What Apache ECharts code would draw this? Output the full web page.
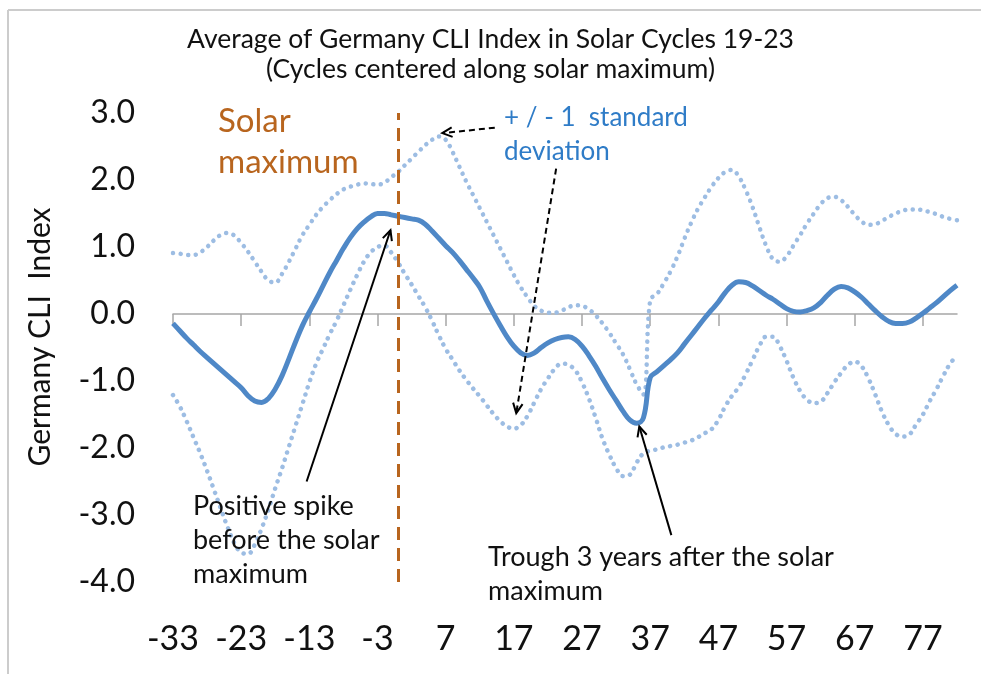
<!DOCTYPE html>
<html>
<head>
<meta charset="utf-8">
<script src="https://cdn.jsdelivr.net/npm/echarts@6/dist/echarts.min.js"></script>
<style>
  html, body { margin: 0; padding: 0; background: #fff; }
  #main { width: 981px; height: 674px; }
</style>
</head>
<body>
<div id="main"></div>
<script>
// months relative to the solar maximum, -33 .. 82
var months = [];
for (var m = -33; m <= 82; m++) months.push(String(m));

// average CLI index across cycles 19-23
var cliMean = [
  -0.14, -0.25, -0.36, -0.46, -0.56, -0.65, -0.74, -0.83, -0.92, -1.01,
  -1.10, -1.22, -1.30, -1.32, -1.26, -1.12, -0.92, -0.67, -0.41, -0.17,
   0.03,  0.22,  0.42,  0.62,  0.80,  0.98,  1.14,  1.27,  1.37,  1.45,
   1.50,  1.50,  1.48,  1.46,  1.44,  1.42,  1.40,  1.34,  1.24,  1.13,
   1.02,  0.92,  0.80,  0.67,  0.54,  0.40,  0.20,  0.01, -0.17, -0.34,
  -0.48, -0.58, -0.62, -0.58, -0.50, -0.43, -0.38, -0.35, -0.34, -0.38,
  -0.48, -0.62, -0.78, -0.96, -1.13, -1.29, -1.45, -1.58, -1.63, -1.55,
  -0.95, -0.86, -0.77, -0.68, -0.58, -0.45, -0.32, -0.19, -0.06,  0.06,
   0.18,  0.32,  0.43,  0.48,  0.47,  0.42,  0.35,  0.28,  0.22,  0.15,
   0.08,  0.04,  0.03,  0.05,  0.09,  0.17,  0.28,  0.37,  0.41,  0.39,
   0.33,  0.25,  0.15,  0.05, -0.04, -0.11, -0.14, -0.14, -0.12, -0.06,
   0.01,  0.09,  0.17,  0.26,  0.35,  0.43
];

// mean + 1 standard deviation
var cliUpper = [
   0.91,  0.90,  0.88,  0.88,  0.92,  1.00,  1.10,  1.18,  1.21,  1.17,
   1.06,  0.93,  0.78,  0.63,  0.50,  0.47,  0.60,  0.78,  0.98,  1.18,
   1.33,  1.48,  1.60,  1.70,  1.79,  1.86,  1.90,  1.93,  1.95,  1.94,
   1.93,  1.96,  2.04,  2.12,  2.22,  2.32,  2.42,  2.52,  2.60,  2.65,
   2.60,  2.42,  2.20,  1.98,  1.78,  1.58,  1.38,  1.18,  0.98,  0.78,
   0.58,  0.40,  0.25,  0.12,  0.05,  0.02,  0.02,  0.05,  0.10,  0.13,
   0.12,  0.07, -0.02, -0.14, -0.28, -0.44, -0.60, -0.82, -1.05, -1.20,
   0.21,  0.30,  0.46,  0.64,  0.86,  1.12,  1.36,  1.57,  1.74,  1.90,
   2.03,  2.12,  2.15,  2.05,  1.85,  1.60,  1.30,  1.02,  0.82,  0.78,
   0.86,  1.02,  1.18,  1.35,  1.50,  1.64,  1.73,  1.75,  1.70,  1.60,
   1.48,  1.38,  1.33,  1.34,  1.39,  1.45,  1.50,  1.54,  1.56,  1.56,
   1.55,  1.52,  1.49,  1.45,  1.42,  1.40
];

// mean - 1 standard deviation
var cliLower = [
  -1.21, -1.38, -1.60, -1.84, -2.08, -2.34, -2.62, -2.90, -3.18, -3.42,
  -3.56, -3.58, -3.44, -3.20, -2.92, -2.60, -2.30, -1.98, -1.66, -1.34,
  -1.02, -0.74, -0.52, -0.30, -0.10,  0.13,  0.36,  0.58,  0.78,  0.92,
   1.00,  1.02,  0.92,  0.77,  0.60,  0.44,  0.27,  0.10, -0.10, -0.32,
  -0.52, -0.68, -0.84, -0.98, -1.11, -1.23, -1.36, -1.49, -1.60, -1.68,
  -1.71, -1.66, -1.52, -1.32, -1.12, -0.96, -0.82, -0.74, -0.76, -0.84,
  -1.02, -1.26, -1.55, -1.86, -2.10, -2.30, -2.42, -2.40, -2.22, -2.08,
  -2.04, -2.02, -1.99, -1.97, -1.95, -1.92, -1.89, -1.84, -1.78, -1.72,
  -1.58, -1.38, -1.22, -1.09, -0.90, -0.69, -0.48, -0.34, -0.34, -0.48,
  -0.70, -0.95, -1.15, -1.28, -1.33, -1.31, -1.18, -1.02, -0.88, -0.76,
  -0.71, -0.78, -0.96, -1.20, -1.46, -1.66, -1.79, -1.83, -1.80, -1.65,
  -1.50, -1.30, -1.12, -0.92, -0.74, -0.62
];

var FONT = 'Lato, "Open Sans", sans-serif';
var TXT = '#111111';

var chart = echarts.init(document.getElementById('main'));

var dotted = { color: '#9dbde3', width: 4.5, type: [0.1, 7.5], cap: 'round' };

chart.setOption({
  animation: false,
  title: {
    text: 'Average of Germany CLI Index in Solar Cycles 19-23\n(Cycles centered along solar maximum)',
    left: 'center',
    top: 24,
    padding: 0,
    textStyle: { fontFamily: FONT, fontSize: 26.5, fontWeight: 'normal', color: TXT, lineHeight: 30 }
  },
  grid: { left: 173, right: 24, top: 113, bottom: 92 },
  xAxis: [
    {
      type: 'category', data: months, boundaryGap: false,
      axisLine: { onZero: true, lineStyle: { color: '#a6a6a6', width: 1.5 } },
      axisTick: { interval: 9, length: 12, lineStyle: { color: '#a6a6a6', width: 1.5 } },
      axisLabel: { show: false },
      splitLine: { show: false }
    },
    {
      type: 'category', data: months, boundaryGap: false, position: 'bottom',
      axisLine: { show: false, onZero: false },
      axisTick: { show: false },
      axisLabel: { interval: 9, fontFamily: FONT, fontSize: 34, color: TXT, margin: 40 },
      splitLine: { show: false }
    },
    { type: 'value', min: -33, max: 82, show: false }
  ],
  yAxis: {
    type: 'value', min: -4, max: 3, interval: 1,
    axisLine: { show: false },
    axisTick: { show: false },
    splitLine: { show: false },
    axisLabel: {
      fontFamily: FONT, fontSize: 32, color: TXT, margin: 38, padding: [6, 0, 0, 0],
      formatter: function (v) { return v.toFixed(1); }
    }
  },
  series: [
    {
      name: '+1 sd', type: 'line', data: cliUpper, smooth: 0.4,
      symbol: 'none', lineStyle: dotted
    },
    {
      name: '-1 sd', type: 'line', data: cliLower, smooth: 0.4,
      symbol: 'none', lineStyle: dotted
    },
    {
      name: 'Average', type: 'line', data: cliMean, smooth: 0.4,
      symbol: 'none', lineStyle: { color: '#4f88c7', width: 5 },
      markLine: {
        silent: true, symbol: 'none', label: { show: false },
        lineStyle: { color: '#b8651e', width: 3, type: [13, 8] },
        data: [{ xAxis: '0' }]
      }
    }
  ]
});

// annotation arrows, anchored in data units (month, index value)
var arrows = [
  { from: [14.2, 2.78], to: [6.5, 2.70], dashed: true },
  { from: [23.2, 2.17], to: [17.35, -1.48], dashed: true },
  { from: [-13.4, -2.50], to: [-1.1, 1.25], dashed: false },
  { from: [40.1, -3.30], to: [35.4, -1.68], dashed: false }
];

function px(p) {
  return chart.convertToPixel({ xAxisIndex: 2, yAxisIndex: 0 }, p);
}

var g = [];
// frame edges of the original picture
g.push({ type: 'line', shape: { x1: 8, y1: 10, x2: 981, y2: 10 }, style: { stroke: '#cccccc', lineWidth: 2 } });
g.push({ type: 'line', shape: { x1: 8, y1: 10, x2: 8, y2: 674 }, style: { stroke: '#cccccc', lineWidth: 2 } });

arrows.forEach(function (a) {
  var p0 = px(a.from), p1 = px(a.to);
  var ang = Math.atan2(p1[1] - p0[1], p1[0] - p0[0]);
  var L = 11, s = 0.45;
  var h1 = [p1[0] - L * Math.cos(ang - s), p1[1] - L * Math.sin(ang - s)];
  var h2 = [p1[0] - L * Math.cos(ang + s), p1[1] - L * Math.sin(ang + s)];
  g.push({
    type: 'line', z: 100,
    shape: { x1: p0[0], y1: p0[1], x2: p1[0], y2: p1[1] },
    style: { stroke: '#000', lineWidth: 2, lineDash: a.dashed ? [6, 4] : null }
  });
  g.push({
    type: 'polyline', z: 100,
    shape: { points: [h1, p1, h2] },
    style: { stroke: '#000', lineWidth: 2, fill: null }
  });
});

function label(x, y, text, size, color, lh) {
  return {
    type: 'text', x: x, y: y, z: 100,
    style: { text: text, fontFamily: FONT, fontSize: size, fill: color, lineHeight: lh, align: 'left', verticalAlign: 'top' }
  };
}

g.push(label(218, 101, 'Solar\nmaximum', 33, '#b8651e', 41));
g.push(label(504, 101, '+ / - 1  standard\ndeviation', 26, '#2f7cc7', 34));
g.push(label(193, 489, 'Positive spike\nbefore the solar\nmaximum', 27, TXT, 34));
g.push(label(488, 540, 'Trough 3 years after the solar\nmaximum', 27, TXT, 34));
g.push({
  type: 'text', x: 40, y: 337, rotation: Math.PI / 2, z: 100,
  style: { text: 'Germany CLI  Index', fontFamily: FONT, fontSize: 30, fill: TXT, align: 'center', verticalAlign: 'middle' }
});

chart.setOption({ graphic: g });
</script>
</body>
</html>
